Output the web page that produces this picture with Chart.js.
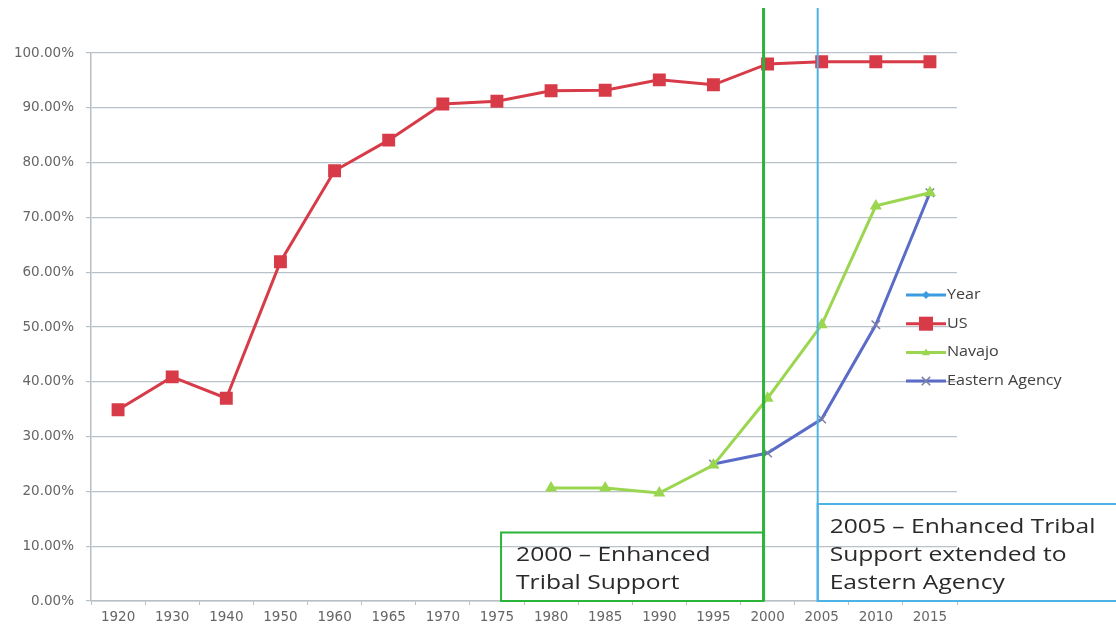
<!DOCTYPE html>
<html>
<head>
<meta charset="utf-8">
<script src="https://cdn.jsdelivr.net/npm/chart.js@4.4.1/dist/chart.umd.min.js"></script>
<style>
html,body{margin:0;padding:0;background:#fff;}
#wrap{width:1116px;height:629px;position:relative;}
</style>
</head>
<body>
<div id="wrap"><canvas id="c" width="1116" height="629"></canvas></div>
<script>
const years = ['1920','1930','1940','1950','1960','1965','1970','1975','1980','1985','1990','1995','2000','2005','2010','2015'];
const yearSeries = [null,null,null,null,null,null,null,null,null,null,null,null,null,null,null,null];
const usValues = [0.349,0.409,0.370,0.619,0.785,0.841,0.907,0.912,0.931,0.932,0.951,0.942,0.980,0.984,0.984,0.984];
const navajoValues = [null,null,null,null,null,null,null,null,0.206,0.206,0.197,0.248,0.370,0.504,0.721,0.745];
const easternValues = [null,null,null,null,null,null,null,null,null,null,null,0.250,0.270,0.332,0.504,0.745];
const yTicks = [0,0.1,0.2,0.3,0.4,0.5,0.6,0.7,0.8,0.9,1.0];
const markers = [
  {year:'2000', color:'#2bb33a', width:3, lines:['2000 \u2013 Enhanced','Tribal Support'], boxLeftYear:'1980'},
  {year:'2005', color:'#4db3e6', width:2, lines:['2005 \u2013 Enhanced Tribal','Support extended to','Eastern Agency']}
];

function stretchedText(ctx, t, x, y, sx){
  ctx.save(); ctx.translate(x, y); ctx.scale(sx, 1); ctx.fillText(t, 0, 0); ctx.restore();
}

const overlay = {
  id:'overlay',
  afterDatasetsDraw(chart){
    const {ctx, scales:{x,y}} = chart;
    ctx.save();
    const g = markers[0], b = markers[1];
    const gx = x.getPixelForValue(years.indexOf(g.year)) - 4;
    const bx = x.getPixelForValue(years.indexOf(b.year)) - 4;
    const bottom = y.getPixelForValue(0);
    const gLeft = x.getPixelForValue(years.indexOf(g.boxLeftYear)) - 50;
    const gTop = y.getPixelForValue(0.125);
    ctx.strokeStyle=g.color; ctx.lineWidth=2;
    ctx.strokeRect(gLeft, gTop, gx-gLeft, bottom-gTop);
    const bTop = y.getPixelForValue(0.177);
    ctx.strokeStyle=b.color; ctx.lineWidth=2;
    ctx.strokeRect(bx, bTop, chart.width-bx+5, bottom-bTop);
    ctx.beginPath(); ctx.strokeStyle=g.color; ctx.lineWidth=g.width;
    ctx.moveTo(gx, 8); ctx.lineTo(gx, bottom); ctx.stroke();
    ctx.beginPath(); ctx.strokeStyle=b.color; ctx.lineWidth=b.width;
    ctx.moveTo(bx, 8); ctx.lineTo(bx, bottom); ctx.stroke();
    ctx.fillStyle='#2a2a2a';
    ctx.font='20px "Open Sans", "DejaVu Sans", sans-serif';
    ctx.textBaseline='alphabetic'; ctx.textAlign='left';
    g.lines.forEach((t,i)=>stretchedText(ctx, t, gLeft+15, gTop+28+i*28, 1.23));
    b.lines.forEach((t,i)=>stretchedText(ctx, t, bx+12, bTop+29+i*28, 1.23));
    // legend
    const items = chart.data.datasets;
    const lx = 906, ly0 = 295, dy = 28.7;
    ctx.font='14px "Open Sans", "DejaVu Sans", sans-serif';
    ctx.textBaseline='middle';
    items.forEach((ds,i)=>{
      const yy = ly0 + i*dy;
      ctx.beginPath(); ctx.strokeStyle=ds.borderColor; ctx.lineWidth=ds.borderWidth;
      ctx.moveTo(lx, yy); ctx.lineTo(lx+40, yy); ctx.stroke();
      const cx = lx+20;
      ctx.fillStyle=ds.pointBackgroundColor; ctx.strokeStyle=ds.pointBorderColor||ds.borderColor;
      const r = ds.pointRadius;
      ctx.lineWidth=1.5;
      if(ds.pointStyle==='rectRot'){ctx.beginPath();ctx.moveTo(cx,yy-r);ctx.lineTo(cx+r,yy);ctx.lineTo(cx,yy+r);ctx.lineTo(cx-r,yy);ctx.closePath();ctx.fill();}
      else if(ds.pointStyle==='rect'){ctx.fillRect(cx-r,yy-r,2*r,2*r);}
      else if(ds.pointStyle==='triangle'){ctx.beginPath();ctx.moveTo(cx,yy-r);ctx.lineTo(cx+r,yy+r*0.7);ctx.lineTo(cx-r,yy+r*0.7);ctx.closePath();ctx.fill();}
      else if(ds.pointStyle==='crossRot'){ctx.beginPath();ctx.moveTo(cx-r*0.7,yy-r*0.7);ctx.lineTo(cx+r*0.7,yy+r*0.7);ctx.moveTo(cx+r*0.7,yy-r*0.7);ctx.lineTo(cx-r*0.7,yy+r*0.7);ctx.stroke();}
      ctx.fillStyle='#404040';
      stretchedText(ctx, ds.label, lx+41, yy, 1.15);
    });
    ctx.restore();
  }
};

new Chart(document.getElementById('c'), {
  type:'line',
  data:{
    labels: years,
    datasets:[
      {label:'Year', data:yearSeries, borderColor:'#3d9be0', backgroundColor:'#3d9be0', pointBackgroundColor:'#3d9be0', borderWidth:3, pointStyle:'rectRot', pointRadius:4},
      {label:'US', data:usValues, borderColor:'#d83b48', backgroundColor:'#d83b48', pointBackgroundColor:'#d83b48', pointBorderColor:'#d83b48', borderWidth:3, pointStyle:'rect', pointRadius:7, pointHoverRadius:7},
      {label:'Navajo', data:navajoValues, borderColor:'#9ad64f', backgroundColor:'#9ad64f', pointBackgroundColor:'#9ad64f', pointBorderColor:'#9ad64f', borderWidth:3, pointStyle:'triangle', pointRadius:4},
      {label:'Eastern Agency', data:easternValues, borderColor:'#5a6bc8', backgroundColor:'#5a6bc8', pointBackgroundColor:'#5a6bc8', pointBorderColor:'#7a7fa8', borderWidth:3, pointStyle:'crossRot', pointRadius:6, pointBorderWidth:1.5}
    ]
  },
  options:{
    responsive:false,
    animation:false,
    spanGaps:false,
    layout:{padding:{top:53,right:159,bottom:0,left:0}},
    plugins:{legend:{display:false}, tooltip:{enabled:false}},
    scales:{
      x:{
        offset:true,
        grid:{display:true, drawOnChartArea:false, offset:true, color:'#b8c0c6', tickLength:4},
        border:{display:true, color:'#b8c0c6', width:1.5},
        ticks:{color:'#666666', font:{size:13.5, family:'"DejaVu Sans", sans-serif'}, maxRotation:0, autoSkip:false, padding:4},
        afterFit(s){ s.height = 28; }
      },
      y:{
        min:0, max:1,
        afterBuildTicks(s){ s.ticks = yTicks.map(v=>({value:v})); },
        grid:{color:'#b8c2c8', lineWidth:1.2, tickLength:5},
        border:{display:true, color:'#b8c0c6', width:1.5},
        ticks:{color:'#666666', font:{size:13.5, family:'"DejaVu Sans", sans-serif'}, padding:12,
          callback:v=>(v*100).toFixed(2)+'%'},
        afterFit(s){ s.width = 91; }
      }
    }
  },
  plugins:[overlay]
});
</script>
</body>
</html>
